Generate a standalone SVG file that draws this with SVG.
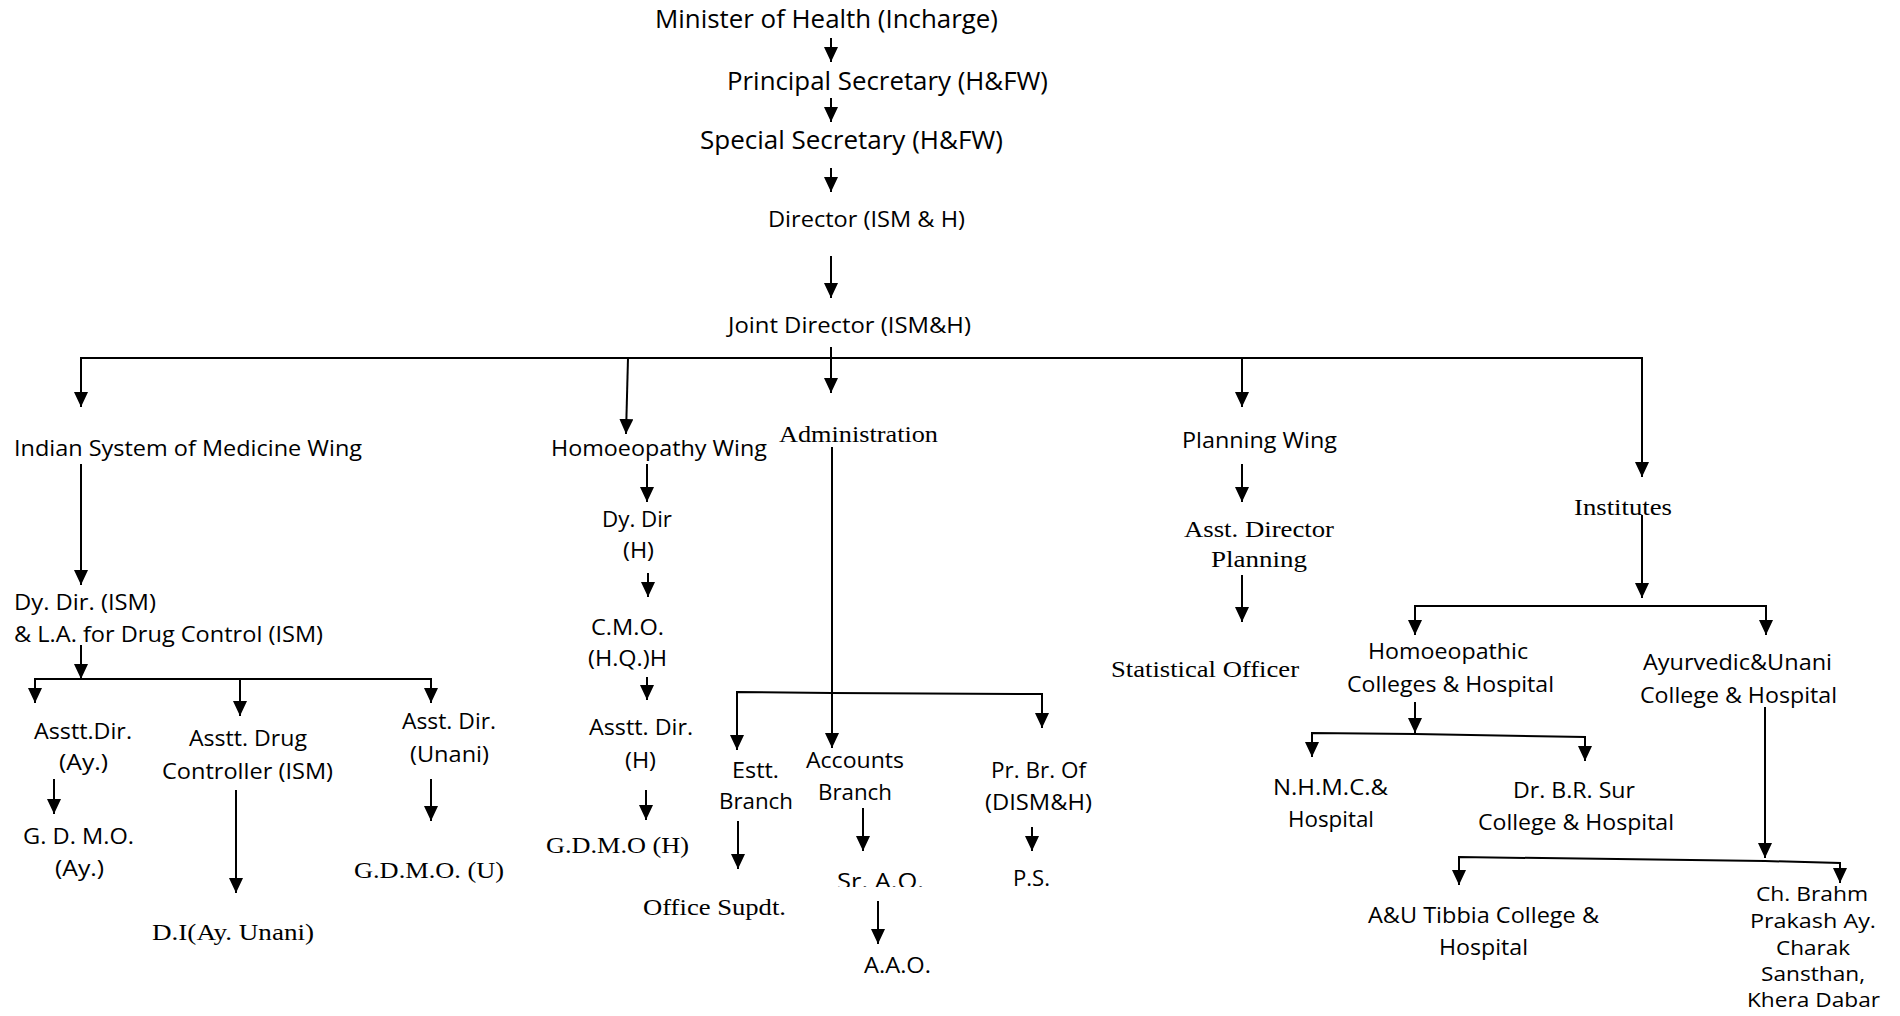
<svg xmlns="http://www.w3.org/2000/svg" width="1900" height="1016" viewBox="0 0 1900 1016">
<style>
text{fill:#000}
.s{font-family:"Open Sans","Noto Sans",sans-serif}
.t{font-family:"Liberation Serif","Times New Roman",serif;font-size:24px}
.l{font-size:25px}.m{font-size:22px}.n{font-size:21px}.k{font-size:19.5px}
#connectors path{fill:none;stroke:#000;stroke-width:2}
.a{marker-end:url(#ah)}
</style>
<defs>
<marker id="ah" markerUnits="userSpaceOnUse" markerWidth="15" markerHeight="14" refX="15" refY="7" orient="auto">
<path d="M0,0 L15,7 L0,14 Z" fill="#000"/>
</marker>
<clipPath id="cut"><rect x="0" y="0" width="1900" height="887"/></clipPath>
</defs>
<rect width="1900" height="1016" fill="#fff"/>
<g id="connectors">
<path class="a" d="M831,38 V62"/>
<path class="a" d="M831,98 V122"/>
<path class="a" d="M831,168 V192"/>
<path class="a" d="M831,256 V298"/>
<path class="a" d="M831,358 H81 V407"/>
<path class="a" d="M831,358 H1642 V477"/>
<path class="a" d="M831,347 V393"/>
<path class="a" d="M628,358 L626,434"/>
<path class="a" d="M1242,358 V407"/>
<path class="a" d="M81,464 V585"/>
<path class="a" d="M81,645 V679"/>
<path class="a" d="M240,679 H35 V703"/>
<path class="a" d="M240,679 H431 V703"/>
<path class="a" d="M240,679 V716"/>
<path class="a" d="M54,779 V814"/>
<path class="a" d="M236,790 V893"/>
<path class="a" d="M431,779 V821"/>
<path class="a" d="M647,464 V502"/>
<path class="a" d="M648,573 V597"/>
<path class="a" d="M647,677 V700"/>
<path class="a" d="M646,790 V820"/>
<path class="a" d="M832,447 V748"/>
<path class="a" d="M832,693 L737,692 V750"/>
<path class="a" d="M832,693 L1042,694 V728"/>
<path class="a" d="M738,821 V869"/>
<path class="a" d="M863,808 V851"/>
<path class="a" d="M878,901 V944"/>
<path class="a" d="M1032,827 V851"/>
<path class="a" d="M1242,464 V502"/>
<path class="a" d="M1242,575 V622"/>
<path class="a" d="M1642,515 V598"/>
<path class="a" d="M1642,606 H1415 V635"/>
<path class="a" d="M1642,606 H1766 V635"/>
<path class="a" d="M1415,702 V733"/>
<path class="a" d="M1415,734 L1312,733 V757"/>
<path class="a" d="M1415,734 L1585,737 V761"/>
<path class="a" d="M1765,707 V858"/>
<path class="a" d="M1765,861 L1459,857 V885"/>
<path class="a" d="M1765,861 L1840,863 V883"/>
</g>
<g id="n-minister"><text class="s l" x="655" y="28" textLength="343" lengthAdjust="spacingAndGlyphs">Minister of Health (Incharge)</text></g>
<g id="n-principal"><text class="s l" x="727" y="90" textLength="321" lengthAdjust="spacingAndGlyphs">Principal Secretary (H&amp;FW)</text></g>
<g id="n-special"><text class="s l" x="700" y="149" textLength="303" lengthAdjust="spacingAndGlyphs">Special Secretary (H&amp;FW)</text></g>
<g id="n-director"><text class="s m" x="768" y="227" textLength="197" lengthAdjust="spacingAndGlyphs">Director (ISM &amp; H)</text></g>
<g id="n-joint"><text class="s m" x="728" y="333" textLength="243" lengthAdjust="spacingAndGlyphs">Joint Director (ISM&amp;H)</text></g>

<g id="n-ism"><text class="s m" x="14" y="456" textLength="348" lengthAdjust="spacingAndGlyphs">Indian System of Medicine Wing</text></g>
<g id="n-dydir-ism"><text class="s m" x="14" y="610" textLength="142" lengthAdjust="spacingAndGlyphs">Dy. Dir. (ISM)</text><text class="s m" x="14" y="642" textLength="309" lengthAdjust="spacingAndGlyphs">&amp; L.A. for Drug Control (ISM)</text></g>
<g id="n-asstt-ay"><text class="s n" x="34" y="739" textLength="98" lengthAdjust="spacingAndGlyphs">Asstt.Dir.</text><text class="s n" x="59" y="770" textLength="49" lengthAdjust="spacingAndGlyphs">(Ay.)</text></g>
<g id="n-gdmo-ay"><text class="s n" x="23" y="844" textLength="111" lengthAdjust="spacingAndGlyphs">G. D. M.O.</text><text class="s n" x="55" y="876" textLength="49" lengthAdjust="spacingAndGlyphs">(Ay.)</text></g>
<g id="n-drugctrl"><text class="s n" x="189" y="746" textLength="118" lengthAdjust="spacingAndGlyphs">Asstt. Drug</text><text class="s n" x="162" y="779" textLength="171" lengthAdjust="spacingAndGlyphs">Controller (ISM)</text></g>
<g id="n-di"><text class="t" x="152" y="940" textLength="162" lengthAdjust="spacingAndGlyphs">D.I(Ay. Unani)</text></g>
<g id="n-asst-unani"><text class="s n" x="402" y="729" textLength="94" lengthAdjust="spacingAndGlyphs">Asst. Dir.</text><text class="s n" x="410" y="762" textLength="79" lengthAdjust="spacingAndGlyphs">(Unani)</text></g>
<g id="n-gdmo-u"><text class="t" x="354" y="878" textLength="150" lengthAdjust="spacingAndGlyphs">G.D.M.O. (U)</text></g>

<g id="n-homoeo"><text class="s m" x="551" y="456" textLength="216" lengthAdjust="spacingAndGlyphs">Homoeopathy Wing</text></g>
<g id="n-dydir-h"><text class="s n" x="602" y="527" textLength="70" lengthAdjust="spacingAndGlyphs">Dy. Dir</text><text class="s n" x="623" y="558" textLength="31" lengthAdjust="spacingAndGlyphs">(H)</text></g>
<g id="n-cmo"><text class="s n" x="591" y="635" textLength="73" lengthAdjust="spacingAndGlyphs">C.M.O.</text><text class="s n" x="588" y="666" textLength="79" lengthAdjust="spacingAndGlyphs">(H.Q.)H</text></g>
<g id="n-asstt-h"><text class="s n" x="589" y="735" textLength="104" lengthAdjust="spacingAndGlyphs">Asstt. Dir.</text><text class="s n" x="625" y="768" textLength="31" lengthAdjust="spacingAndGlyphs">(H)</text></g>
<g id="n-gdmo-h"><text class="t" x="546" y="853" textLength="143" lengthAdjust="spacingAndGlyphs">G.D.M.O (H)</text></g>

<g id="n-admin"><text class="t" x="779" y="442" textLength="159" lengthAdjust="spacingAndGlyphs">Administration</text></g>
<g id="n-estt"><text class="s n" x="732" y="778" textLength="47" lengthAdjust="spacingAndGlyphs">Estt.</text><text class="s n" x="719" y="809" textLength="74" lengthAdjust="spacingAndGlyphs">Branch</text></g>
<g id="n-office"><text class="t" x="643" y="915" textLength="143" lengthAdjust="spacingAndGlyphs">Office Supdt.</text></g>
<g id="n-accounts"><text class="s n" x="806" y="768" textLength="98" lengthAdjust="spacingAndGlyphs">Accounts</text><text class="s n" x="818" y="800" textLength="74" lengthAdjust="spacingAndGlyphs">Branch</text></g>
<g id="n-srao"><text class="s n" x="837" y="889" textLength="87" lengthAdjust="spacingAndGlyphs" clip-path="url(#cut)">Sr. A.O.</text></g>
<g id="n-aao"><text class="s n" x="864" y="973" textLength="67" lengthAdjust="spacingAndGlyphs">A.A.O.</text></g>
<g id="n-prbr"><text class="s n" x="991" y="778" textLength="95" lengthAdjust="spacingAndGlyphs">Pr. Br. Of</text><text class="s n" x="985" y="810" textLength="107" lengthAdjust="spacingAndGlyphs">(DISM&amp;H)</text></g>
<g id="n-ps"><text class="s n" x="1013" y="886" textLength="37" lengthAdjust="spacingAndGlyphs" clip-path="url(#cut)">P.S.</text></g>

<g id="n-planning"><text class="s n" x="1182" y="448" textLength="155" lengthAdjust="spacingAndGlyphs">Planning Wing</text></g>
<g id="n-asst-plan"><text class="t" x="1184" y="537" textLength="150" lengthAdjust="spacingAndGlyphs">Asst. Director</text><text class="t" x="1211" y="567" textLength="96" lengthAdjust="spacingAndGlyphs">Planning</text></g>
<g id="n-stat"><text class="t" x="1111" y="677" textLength="188" lengthAdjust="spacingAndGlyphs">Statistical Officer</text></g>

<g id="n-institutes"><text class="t" x="1574" y="515" textLength="98" lengthAdjust="spacingAndGlyphs">Institutes</text></g>
<g id="n-homcol"><text class="s n" x="1368" y="659" textLength="160" lengthAdjust="spacingAndGlyphs">Homoeopathic</text><text class="s n" x="1347" y="692" textLength="207" lengthAdjust="spacingAndGlyphs">Colleges &amp; Hospital</text></g>
<g id="n-ayucol"><text class="s n" x="1643" y="670" textLength="189" lengthAdjust="spacingAndGlyphs">Ayurvedic&amp;Unani</text><text class="s n" x="1640" y="703" textLength="197" lengthAdjust="spacingAndGlyphs">College &amp; Hospital</text></g>
<g id="n-nhmc"><text class="s n" x="1273" y="795" textLength="115" lengthAdjust="spacingAndGlyphs">N.H.M.C.&amp;</text><text class="s n" x="1288" y="827" textLength="86" lengthAdjust="spacingAndGlyphs">Hospital</text></g>
<g id="n-brsur"><text class="s n" x="1513" y="798" textLength="122" lengthAdjust="spacingAndGlyphs">Dr. B.R. Sur</text><text class="s n" x="1478" y="830" textLength="196" lengthAdjust="spacingAndGlyphs">College &amp; Hospital</text></g>
<g id="n-tibbia"><text class="s n" x="1368" y="923" textLength="231" lengthAdjust="spacingAndGlyphs">A&amp;U Tibbia College &amp;</text><text class="s n" x="1439" y="955" textLength="89" lengthAdjust="spacingAndGlyphs">Hospital</text></g>
<g id="n-charak"><text class="s k" x="1756" y="901" textLength="112" lengthAdjust="spacingAndGlyphs">Ch. Brahm</text><text class="s k" x="1750" y="928" textLength="126" lengthAdjust="spacingAndGlyphs">Prakash Ay.</text><text class="s k" x="1776" y="955" textLength="74" lengthAdjust="spacingAndGlyphs">Charak</text><text class="s k" x="1761" y="981" textLength="104" lengthAdjust="spacingAndGlyphs">Sansthan,</text><text class="s k" x="1747" y="1007" textLength="133" lengthAdjust="spacingAndGlyphs">Khera Dabar</text></g>
</svg>
